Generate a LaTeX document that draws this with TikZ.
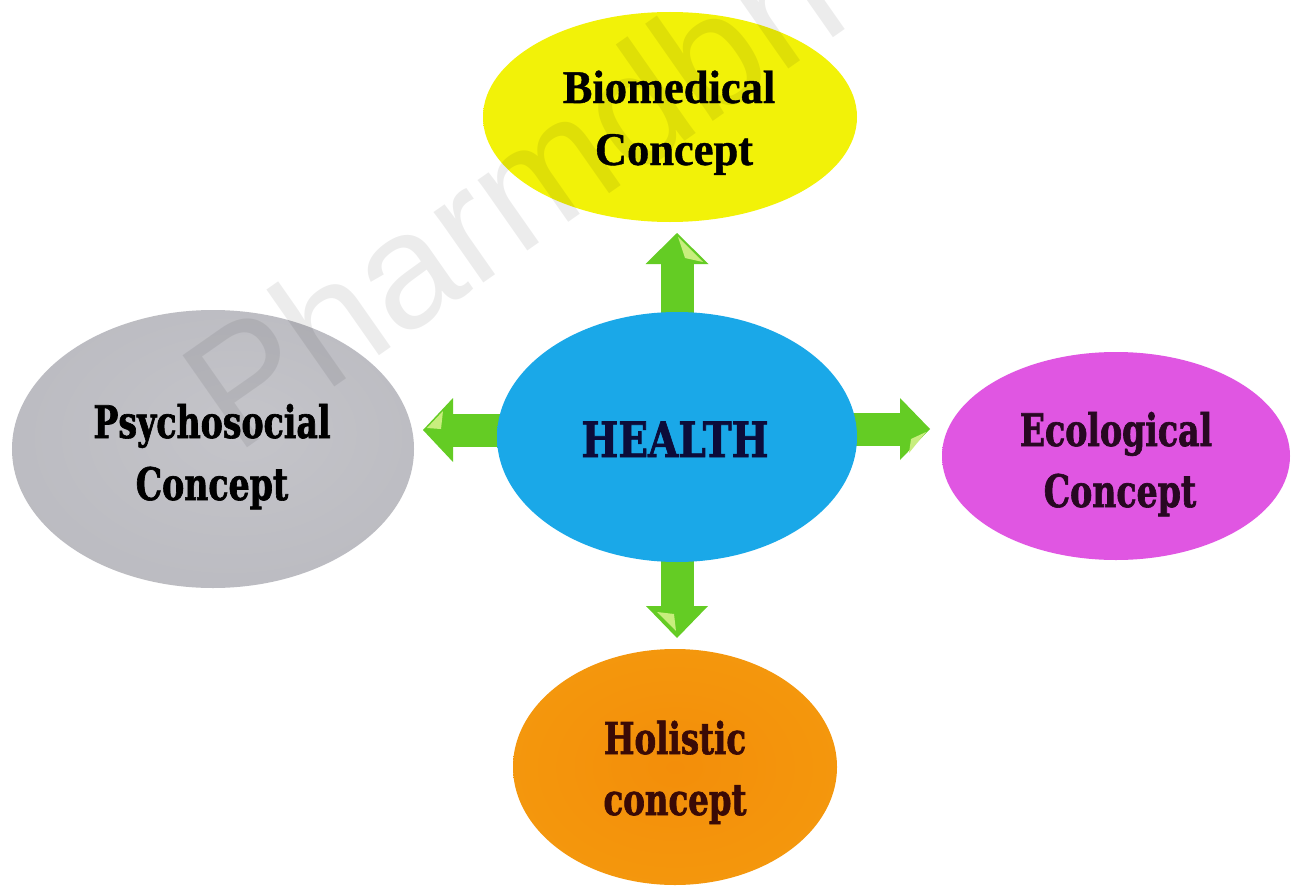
\documentclass[tikz,border=0pt]{standalone}
\usepackage{fontspec}
\usetikzlibrary{shapes.geometric,arrows.meta,calc}
\setmainfont{Liberation Serif}
\newfontfamily\slab[FakeStretch=0.74,FakeBold=1.4]{DejaVu Serif}
\newfontfamily\slabwide[FakeStretch=0.8,FakeBold=1.4]{DejaVu Serif}
\newfontfamily\biofont[FakeStretch=0.95,FakeBold=0.8]{Liberation Serif}
\newfontfamily\markfont{Liberation Sans}

\pgfdeclarelayer{background}
\pgfsetlayers{background,main}

% palette
\definecolor{arrowgreen}{RGB}{100,204,36}
\definecolor{arrowlight}{RGB}{200,238,126}
\definecolor{bioyellow}{RGB}{242,242,8}
\definecolor{biorim}{RGB}{238,240,60}
\definecolor{healthblue}{RGB}{26,168,232}
\definecolor{healthrim}{RGB}{70,218,246}
\definecolor{psygray}{RGB}{186,186,192}
\definecolor{psyrim}{RGB}{232,232,236}
\definecolor{ecopink}{RGB}{224,86,226}
\definecolor{ecorim}{RGB}{246,186,246}
\definecolor{holorange}{RGB}{243,142,10}
\definecolor{holrim}{RGB}{252,208,30}
\definecolor{navytext}{RGB}{12,12,58}
\definecolor{plumtext}{RGB}{40,8,34}
\definecolor{browntext}{RGB}{58,10,6}

% glossy fills: flat core, brighter rim
\pgfdeclareradialshading{bioshade}{\pgfpoint{0bp}{0bp}}{%
  color(0bp)=(bioyellow); color(42bp)=(bioyellow); color(48bp)=(biorim); color(50bp)=(bioyellow)}
\pgfdeclareradialshading{healthshade}{\pgfpoint{0bp}{0bp}}{%
  color(0bp)=(healthblue); color(34bp)=(healthblue); color(45bp)=(healthrim); color(49bp)=(healthblue); color(50bp)=(healthblue!85!black)}
\pgfdeclareradialshading{psyshade}{\pgfpoint{4bp}{4bp}}{%
  color(0bp)=(psygray!85!white); color(32bp)=(psygray); color(44bp)=(psyrim); color(48bp)=(psygray); color(50bp)=(psygray!70!black)}
\pgfdeclareradialshading{ecoshade}{\pgfpoint{3bp}{3bp}}{%
  color(0bp)=(ecopink); color(32bp)=(ecopink); color(45bp)=(ecorim); color(50bp)=(ecopink!85!white)}
\pgfdeclareradialshading{holshade}{\pgfpoint{0bp}{0bp}}{%
  color(0bp)=(holorange); color(28bp)=(holorange!85!holrim); color(45bp)=(holrim); color(50bp)=(holorange)}

\begin{document}
\begin{tikzpicture}[x=1bp,y=-1bp,
  bubble/.style={ellipse, inner sep=0pt, draw=none},
  flow/.style={draw=arrowgreen, line width=33bp, line cap=butt},
  facet/.style={fill=arrowlight},
  heavy/.style={anchor=base, inner sep=0pt, font=\slab\bfseries\fontsize{45}{45}\selectfont},
  biotext/.style={anchor=base, inner sep=0pt, font=\biofont\bfseries\fontsize{47}{47}\selectfont},
  watermark/.style={anchor=base west, inner sep=0pt, rotate=35, text=black, text opacity=0.075,
    font=\markfont\fontsize{164}{164}\selectfont}]
\useasboundingbox (0,0) rectangle (1296,886);
\begin{pgfonlayer}{background}
  \fill[white] (0,0) rectangle (1296,886);
\end{pgfonlayer}

% the five concept bubbles
\node[bubble, minimum width=374bp, minimum height=210bp, shading=bioshade] (bio) at (670,117) {};
\node[bubble, minimum width=360bp, minimum height=250bp, shading=healthshade] (health) at (677,437) {};
\node[bubble, minimum width=402bp, minimum height=278bp, shading=psyshade] (psy) at (213,449) {};
\node[bubble, minimum width=348bp, minimum height=208bp, shading=ecoshade] (eco) at (1116,456) {};
\node[bubble, minimum width=324bp, minimum height=236bp, shading=holshade] (hol) at (675,767) {};

% block arrows leaving HEALTH
\coordinate (utip) at (677,233);
\coordinate (dtip) at (677,638);
\coordinate (ltip) at (423,430);
\coordinate (rtip) at (930,429);
\coordinate (lstart) at ([xshift=14bp]health.west);
\coordinate (rstart) at ([xshift=-14bp]health.east);
\begin{pgfonlayer}{background}
  \draw[flow, -{Triangle[length=31bp,width=63bp,line width=0pt]}] ([yshift=-14bp]health.north) -- (utip);
  \draw[flow, -{Triangle[length=32bp,width=62bp,line width=0pt]}] ([yshift=14bp]health.south) -- (dtip);
  \draw[flow, -{Triangle[length=30bp,width=64bp,line width=0pt]}] (lstart |- ltip) -- (ltip);
  \draw[flow, -{Triangle[length=30bp,width=62bp,line width=0pt]}] (rstart |- rtip) -- (rtip);
\end{pgfonlayer}
% light facets on the arrow heads
\fill[facet] ($(utip)+(1,4)$) -- ($(utip)+(26,29)$) -- ($(utip)+(8,25)$) -- cycle;
\fill[facet] ($(dtip)+(-20,-26)$) -- ($(dtip)+(-3,-24)$) -- ($(dtip)+(-1,-7)$) -- cycle;
\fill[facet] ($(ltip)+(4,-2)$) -- ($(ltip)+(20,-19)$) -- ($(ltip)+(18,-1)$) -- cycle;
\fill[facet] ($(rtip)+(-21,24)$) -- ($(rtip)+(-4,3)$) -- ($(rtip)+(-19,10)$) -- cycle;

% faint diagonal mark across the page
\node[watermark] (mark) at (236,456) {Pharmdbh};

% labels
\node[biotext] (bioA) at (669,103) {Biomedical};
\node[biotext] (bioB) at (674,165) {Concept};
\node[heavy, text=navytext, font=\slabwide\bfseries\fontsize{49}{49}\selectfont] (healthA) at (675,457) {HEALTH};
\node[heavy, text=black] (psyA) at (212,438) {Psychosocial};
\node[heavy, text=black] (psyB) at (212,500) {Concept};
\node[heavy, text=plumtext] (ecoA) at (1116,446) {Ecological};
\node[heavy, text=plumtext] (ecoB) at (1120,507) {Concept};
\node[heavy, text=browntext, font=\slab\bfseries\fontsize{44}{44}\selectfont] (holA) at (675,754) {Holistic};
\node[heavy, text=browntext, font=\slab\bfseries\fontsize{44}{44}\selectfont] (holB) at (675,815) {concept};
\end{tikzpicture}
\end{document}
